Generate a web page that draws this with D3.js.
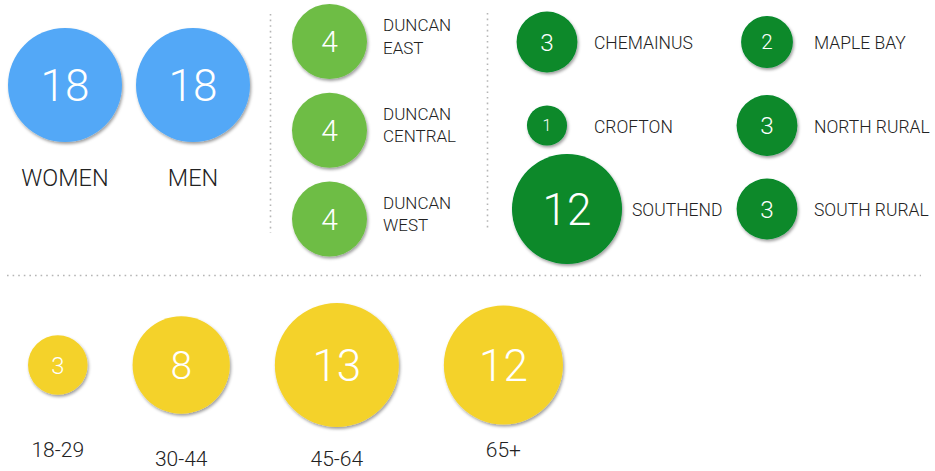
<!DOCTYPE html>
<html>
<head>
<meta charset="utf-8">
<script src="https://cdn.jsdelivr.net/npm/d3@7/dist/d3.min.js"></script>
<style>
  html, body { margin: 0; padding: 0; background: #fff; }
  svg { display: block; }
  text { font-family: Roboto, "Helvetica Neue", Arial, sans-serif; }
</style>
</head>
<body>
<svg id="chart" width="935" height="471"></svg>
<script>
// ---------- DATA ----------
const genderCats = ["WOMEN", "MEN"];
const genderVals = [18, 18];

const duncanCats = ["DUNCAN EAST", "DUNCAN CENTRAL", "DUNCAN WEST"];
const duncanVals = [4, 4, 4];

const areaCats = ["CHEMAINUS", "CROFTON", "SOUTHEND", "MAPLE BAY", "NORTH RURAL", "SOUTH RURAL"];
const areaVals = [3, 1, 12, 2, 3, 3];

const ageCats = ["18-29", "30-44", "45-64", "65+"];
const ageVals = [3, 8, 13, 12];

// ---------- STYLE ----------
const colBlue = "#52a8f7";
const colLightGreen = "#6ebd45";
const colDarkGreen = "#07892c";
const colYellow = "#f4d22b";
const labelColor = "#222";

const svg = d3.select("#chart");

const defs = svg.append("defs");
const f = defs.append("filter").attr("id", "shadow")
  .attr("x", "-20%").attr("y", "-20%").attr("width", "150%").attr("height", "150%");
f.append("feDropShadow").attr("dx", 1.2).attr("dy", 2).attr("stdDeviation", 1.4)
  .attr("flood-color", "#000").attr("flood-opacity", 0.38);

const numSize = r => Math.min(44, r * 0.8);

function bubble(g, cx, cy, r, color, value) {
  g.append("circle").attr("cx", cx).attr("cy", cy).attr("r", r)
    .attr("fill", color).attr("filter", "url(#shadow)");
  g.append("text").attr("x", cx).attr("y", cy).attr("dy", "0.36em")
    .attr("text-anchor", "middle").attr("fill", "#fff")
    .style("font-weight", 300).style("font-size", numSize(r) + "px")
    .text(value);
}

// ---------- SEPARATORS ----------
const sep = svg.append("g").attr("stroke", "#b5b5b5").attr("stroke-width", 1.6)
  .attr("stroke-dasharray", "1.6,4");
sep.append("line").attr("x1", 270.5).attr("x2", 270.5).attr("y1", 14).attr("y2", 233);
sep.append("line").attr("x1", 487.5).attr("x2", 487.5).attr("y1", 13).attr("y2", 231);
sep.append("line").attr("x1", 7).attr("x2", 921).attr("y1", 275.5).attr("y2", 275.5);

// ---------- GENDER ----------
const gX = d3.scalePoint().domain(genderCats).range([65, 193]);
const gR = d3.scaleSqrt().domain([0, d3.max(genderVals)]).range([0, 57]);
const gG = svg.append("g");
genderCats.forEach((c, i) => {
  const g = gG.append("g");
  bubble(g, gX(c), 85, gR(genderVals[i]), colBlue, genderVals[i]);
  g.append("text").attr("x", gX(c)).attr("y", 186).attr("text-anchor", "middle")
    .attr("fill", labelColor).style("font-size", "23.5px").style("font-weight", 300)
    .text(c);
});

// ---------- DUNCAN ----------
const dY = d3.scalePoint().domain(duncanCats).range([41.5, 219]);
const dR = d3.scaleSqrt().domain([0, d3.max(duncanVals)]).range([0, 37.5]);
const dCx = 329.5;
const dG = svg.append("g");
duncanCats.forEach((c, i) => {
  const g = dG.append("g");
  const r = dR(duncanVals[i]);
  const cy = dY(c);
  bubble(g, dCx, cy, r, colLightGreen, duncanVals[i]);
  const parts = c.split(" ");
  const lx = dCx + r + 16;
  const t = g.append("text").attr("x", lx).attr("y", cy - 5)
    .attr("fill", labelColor).style("font-size", "17px").style("font-weight", 300);
  t.append("tspan").attr("x", lx).attr("dy", "-0.3em").text(parts[0]);
  t.append("tspan").attr("x", lx).attr("dy", "1.3em").text(parts.slice(1).join(" "));
});

// ---------- AREAS ----------
const aCol = d3.scalePoint().domain([0, 1]).range([547, 767]);
const aRow = d3.scalePoint().domain([0, 1, 2]).range([42, 209]);
const aR = d3.scaleSqrt().domain([0, d3.max(areaVals)]).range([5.8, 55]);
const aG = svg.append("g");
areaCats.forEach((c, i) => {
  const g = aG.append("g");
  const col = Math.floor(i / 3), row = i % 3;
  const r = aR(areaVals[i]);
  const cx = Math.max(aCol(col), aCol(col) - 35 + r);
  const cy = aRow(row);
  bubble(g, cx, cy, r, colDarkGreen, areaVals[i]);
  const lx = Math.max(aCol(col) + 47, cx + r + 10);
  g.append("text").attr("x", lx).attr("y", cy + 1).attr("dy", "0.36em")
    .attr("fill", labelColor).style("font-size", "17.5px").style("font-weight", 300)
    .text(c);
});

// ---------- AGES ----------
const yR = d3.scaleSqrt().domain([0, d3.max(ageVals)]).range([0, 62]);
const ageGap = 45;
const ageCy = 365;
const ageLabelY = [457, 466, 466, 457];
let xCursor = 28;
const yG = svg.append("g");
ageCats.forEach((c, i) => {
  const g = yG.append("g");
  const r = yR(ageVals[i]);
  const cx = xCursor + r;
  xCursor = cx + r + ageGap;
  bubble(g, cx, ageCy, r, colYellow, ageVals[i]);
  g.append("text").attr("x", cx).attr("y", ageLabelY[i]).attr("text-anchor", "middle")
    .attr("fill", labelColor).style("font-size", "21px").style("font-weight", 300)
    .text(c);
});
</script>
</body>
</html>
